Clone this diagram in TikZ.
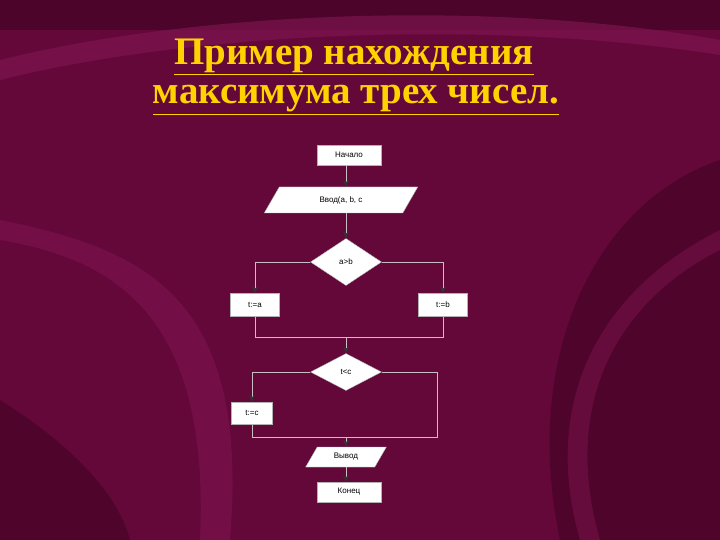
\documentclass[tikz,border=0pt]{standalone}
\usepackage{fontspec}
\setmainfont{Liberation Serif}
\newfontfamily\boxfont{Liberation Sans}
\usetikzlibrary{shapes.geometric,arrows.meta}
\definecolor{bgm}{RGB}{100,8,58}
\definecolor{bgd}{RGB}{60,2,32}
\definecolor{bgl}{RGB}{125,20,78}
\definecolor{ttl}{RGB}{255,210,0}
\definecolor{ln}{RGB}{200,190,195}
\tikzset{
 blk/.style={draw=gray!60,fill=white,minimum width=#1,minimum height=20pt,inner sep=0pt,font=\boxfont\fontsize{8}{9}\selectfont},
 blk/.default=64pt,
 io/.style={trapezium,trapezium left angle=60,trapezium right angle=120,draw=gray!60,fill=white,inner sep=1pt,font=\boxfont\fontsize{8}{9}\selectfont},
 dec/.style={diamond,draw=gray!60,fill=white,minimum width=71pt,minimum height=47pt,aspect=1.5,inner sep=0pt,font=\boxfont\fontsize{8}{9}\selectfont},
 cn/.style={draw=ln,line width=0.8pt},
 ar/.style={cn,-{Stealth[length=7pt,width=6pt,color=black!80]}},
 ttlf/.style={text=ttl,font=\bfseries\fontsize{39}{44}\selectfont}
}
\begin{document}
\begin{tikzpicture}[x=1pt,y=-1pt]
\fill[bgm] (0,0) rectangle (720,540);
\useasboundingbox (0,0) rectangle (720,540);
% decorative swirls
\fill[bgd,opacity=0.6] (0,0) rectangle (720,30);
\fill[bgl,opacity=0.7] (0,60) .. controls (200,10) and (500,0) .. (720,40) -- (720,55) .. controls (500,20) and (200,30) .. (0,80) -- cycle;
\fill[bgl,opacity=0.6] (0,220) .. controls (150,250) and (250,300) .. (230,540) -- (200,540) .. controls (210,320) and (120,260) .. (0,240) -- cycle;
\fill[bgd,opacity=0.5] (720,160) .. controls (600,200) and (520,350) .. (560,540) -- (720,540) -- cycle;
\fill[bgl,opacity=0.5] (720,250) .. controls (620,300) and (560,400) .. (600,540) -- (580,540) .. controls (540,400) and (600,290) .. (720,230) -- cycle;
\fill[bgd,opacity=0.5] (0,400) .. controls (80,450) and (120,500) .. (130,540) -- (0,540) -- cycle;
% title
\node[ttlf] (t1) at (354,57) {\underline{Пример нахождения}};
\node[ttlf] (t2) at (356,100) {\underline{максимума трех чисел.}};
% flowchart
\node[blk] (start) at (349,155) {Начало};
\node[io,minimum width=116pt,minimum height=26pt] (in) at (341,200) {Ввод(a, b, c};
\node[dec] (d1) at (346,262) {a>b};
\node[blk=49pt,minimum height=23pt] (ta) at (255,305) {t:=a};
\node[blk=49pt,minimum height=23pt] (tb) at (443,305) {t:=b};
\coordinate (j1) at (346,337);
\node[dec,minimum height=37pt] (d2) at (346,372) {t<c};
\node[blk=41pt,minimum height=22pt] (tc) at (252,413) {t:=c};
\coordinate (j2) at (346,437);
\node[io,minimum width=62pt,minimum height=20pt] (out) at (346,457) {Вывод};
\node[blk] (end) at (349,492) {Конец};
\draw[ar] (start.south -| d1) -- (in.north -| d1);
\draw[ar] (in.south -| d1) -- (d1.north);
\draw[ar] (d1.west) -| (ta.north);
\draw[ar] (d1.east) -| (tb.north);
\draw[cn] (ta.south) |- (j1);
\draw[cn] (tb.south) |- (j1);
\draw[ar] (j1) -- (d2);
\draw[ar] (d2.west) -| (tc.north);
\draw[cn] (tc.south) |- (j2);
\draw[cn] (d2.east) -| (437,437) -- (j2);
\draw[ar] (j2) -- (out);
\draw[ar] (out.south) -- (out.south |- end.north);
\end{tikzpicture}
\end{document}
